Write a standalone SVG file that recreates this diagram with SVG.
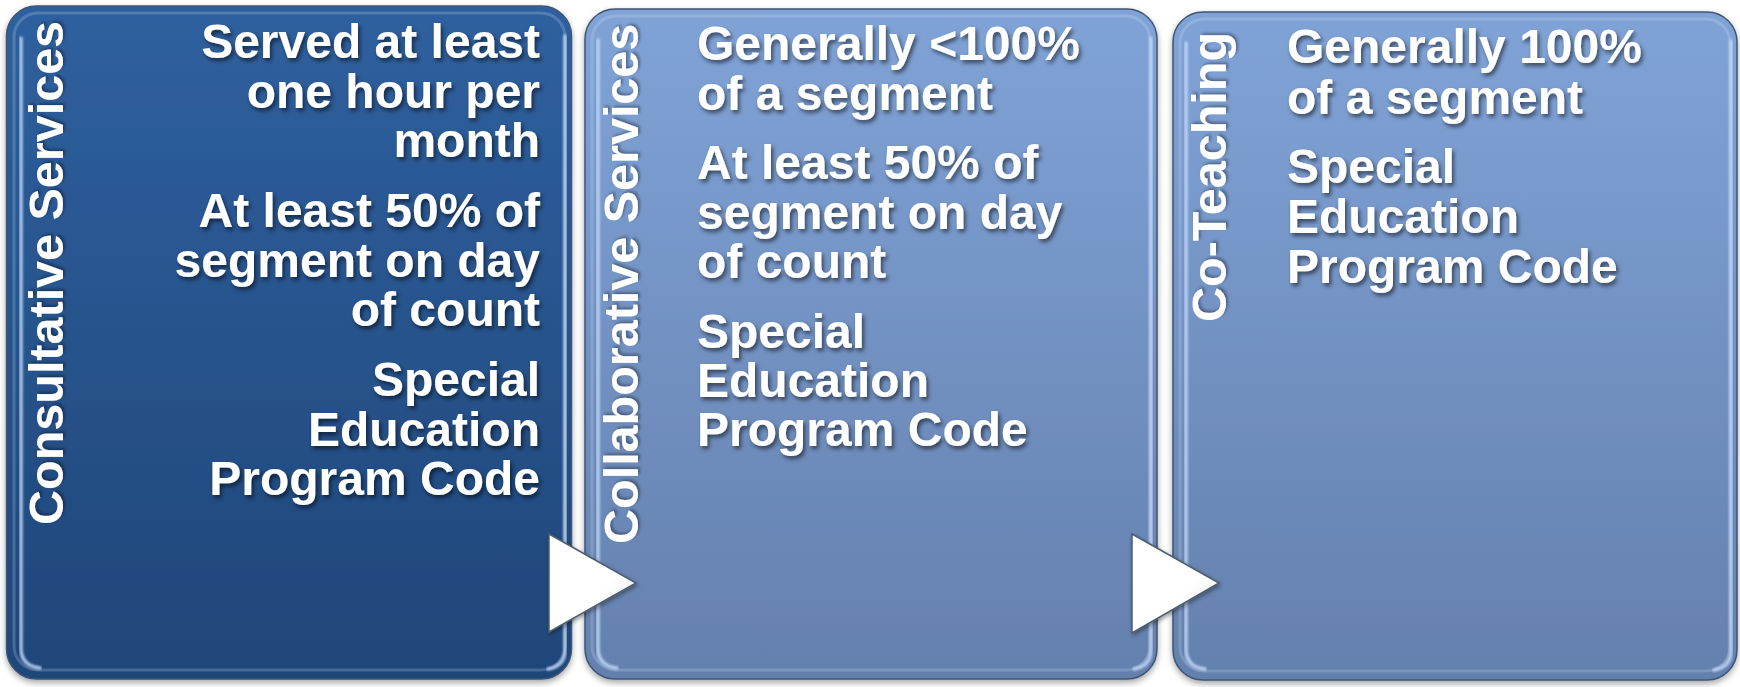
<svg xmlns="http://www.w3.org/2000/svg" width="1740" height="687" viewBox="0 0 1740 687">
<defs>
<linearGradient id="gDark" x1="0" y1="0" x2="0" y2="1">
<stop offset="0" stop-color="#2f609f"/>
<stop offset="1" stop-color="#1f4679"/>
</linearGradient>
<linearGradient id="gLight" x1="0" y1="0" x2="0" y2="1">
<stop offset="0" stop-color="#80a3d7"/>
<stop offset="1" stop-color="#6480ad"/>
</linearGradient>
<linearGradient id="gArrow" x1="0" y1="0" x2="1" y2="1">
<stop offset="0" stop-color="#ffffff"/>
<stop offset="0.6" stop-color="#ffffff"/>
<stop offset="1" stop-color="#e2e2e2"/>
</linearGradient>
<filter id="boxShadow" x="-5%" y="-5%" width="110%" height="110%">
<feDropShadow dx="0" dy="3" stdDeviation="3" flood-color="#000" flood-opacity="0.35"/>
</filter>
<filter id="txtShadow" x="-10%" y="-10%" width="120%" height="120%">
<feDropShadow dx="2" dy="3" stdDeviation="2" flood-color="#000" flood-opacity="0.55"/>
</filter>
<filter id="vtxtShadow" x="-20%" y="-10%" width="140%" height="120%">
<feDropShadow dx="2" dy="2" stdDeviation="1.5" flood-color="#000" flood-opacity="0.35"/>
</filter>
<filter id="arrowShadow" x="-20%" y="-20%" width="140%" height="140%">
<feDropShadow dx="1" dy="2" stdDeviation="2" flood-color="#000" flood-opacity="0.4"/>
</filter>
<filter id="soft" x="-10%" y="-10%" width="120%" height="120%">
<feGaussianBlur stdDeviation="0.8"/>
</filter>
</defs>
<style>
.box { stroke: #3f5573; stroke-width: 1.5; }
.stripe { fill: none; stroke: #c2dbfa; stroke-width: 3.5; stroke-opacity: 0.85; stroke-linecap: round; }
.rim { fill: none; stroke: #d0e2fa; stroke-width: 3; stroke-opacity: 0.22; }
.body { font-family: "Liberation Sans", Arial, sans-serif; font-weight: bold; font-size: 48px; fill: #ffffff; }
.title { font-family: "Liberation Sans", Arial, sans-serif; font-weight: bold; font-size: 48.5px; fill: #ffffff; }
.arrow { fill: url(#gArrow); stroke: #4e5d70; stroke-width: 1.5; stroke-linejoin: miter; }
</style>

<g id="node-consultative">
<rect class="box" x="6.5" y="6" width="565" height="673" rx="30" fill="url(#gDark)" filter="url(#boxShadow)"/>
<rect class="rim" x="14" y="13" width="551" height="657" rx="24"/>
<path class="stripe" filter="url(#soft)" d="M21,38 L21,648 Q21,666 40,668"/>
<path class="stripe" filter="url(#soft)" d="M565,36 L565,650 Q565,666 548,669"/>
<text class="title" transform="translate(63,525) rotate(-90)" filter="url(#vtxtShadow)">Consultative Services</text>
<g class="body" text-anchor="end" filter="url(#txtShadow)">
<text x="540" y="58">Served at least</text>
<text x="540" y="108">one hour per</text>
<text x="540" y="157">month</text>
<text x="540" y="227">At least 50% of</text>
<text x="540" y="277">segment on day</text>
<text x="540" y="326">of count</text>
<text x="540" y="396">Special</text>
<text x="540" y="446">Education</text>
<text x="540" y="495">Program Code</text>
</g>
</g>

<g id="node-collaborative">
<rect class="box" x="585" y="9" width="572" height="670" rx="30" fill="url(#gLight)" filter="url(#boxShadow)"/>
<rect class="rim" x="592" y="16" width="558" height="654" rx="24"/>
<path class="stripe" filter="url(#soft)" d="M598,40 L598,648 Q598,666 617,668"/>
<path class="stripe" filter="url(#soft)" d="M1151,38 L1151,650 Q1151,666 1134,669"/>
<text class="title" transform="translate(638,544) rotate(-90)" filter="url(#vtxtShadow)">Collaborative Services</text>
<g class="body" filter="url(#txtShadow)">
<text x="697" y="60">Generally &lt;100%</text>
<text x="697" y="110">of a segment</text>
<text x="697" y="179">At least 50% of</text>
<text x="697" y="229">segment on day</text>
<text x="697" y="278">of count</text>
<text x="697" y="348">Special</text>
<text x="697" y="397">Education</text>
<text x="697" y="446">Program Code</text>
</g>
</g>

<g id="node-coteaching">
<rect class="box" x="1173" y="12" width="564" height="668" rx="30" fill="url(#gLight)" filter="url(#boxShadow)"/>
<rect class="rim" x="1180" y="19" width="550" height="652" rx="24"/>
<path class="stripe" filter="url(#soft)" d="M1186,43 L1186,649 Q1186,667 1205,669"/>
<path class="stripe" filter="url(#soft)" d="M1731,41 L1731,651 Q1731,667 1714,670"/>
<text class="title" transform="translate(1226,322) rotate(-90)" filter="url(#vtxtShadow)">Co-Teaching</text>
<g class="body" filter="url(#txtShadow)">
<text x="1287" y="63">Generally 100%</text>
<text x="1287" y="114">of a segment</text>
<text x="1287" y="183">Special</text>
<text x="1287" y="233">Education</text>
<text x="1287" y="283">Program Code</text>
</g>
</g>

<g id="connectors">
<polygon class="arrow" points="549,534 636,583 549,632" filter="url(#arrowShadow)"/>
<polygon class="arrow" points="1132,534 1219,583 1132,633" filter="url(#arrowShadow)"/>
</g>
</svg>
